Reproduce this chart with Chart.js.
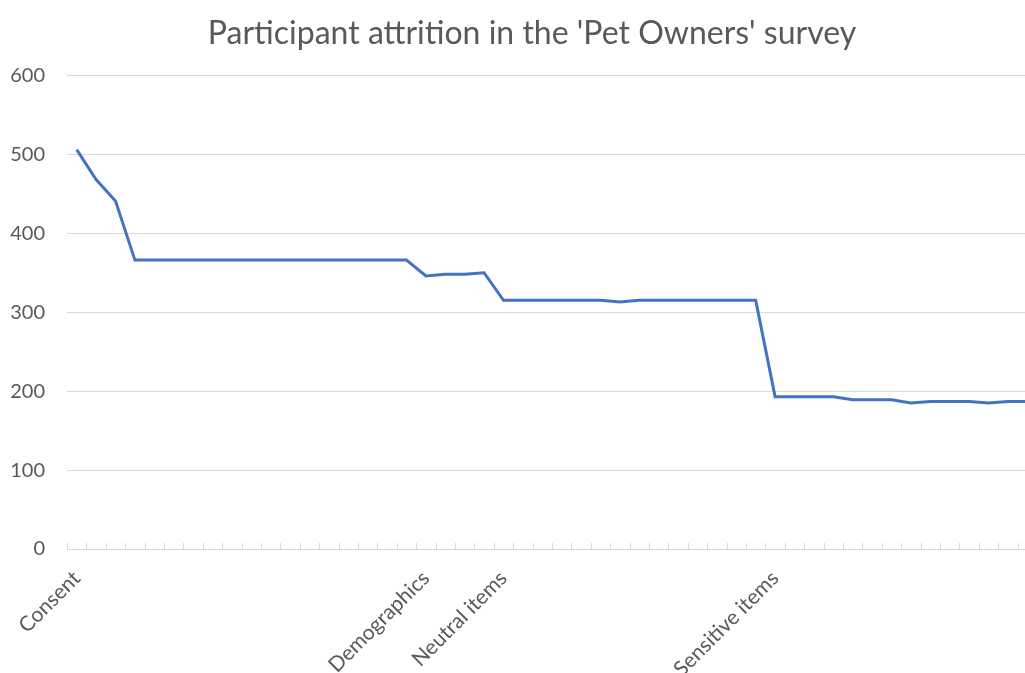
<!DOCTYPE html>
<html>
<head>
<meta charset="utf-8">
<script src="https://cdn.jsdelivr.net/npm/chart.js@4.4.1/dist/chart.umd.min.js"></script>
<style>
  html, body { margin: 0; padding: 0; background: #fff; overflow: hidden; }
</style>
</head>
<body>
<canvas id="attritionChart" width="1064" height="673"></canvas>
<script>
// one entry per survey page, section name where a section starts
const pages = [
  "Consent", "", "", "", "", "", "", "", "", "",
  "", "", "", "", "", "", "", "", "Demographics", "",
  "", "", "Neutral items", "", "", "", "", "", "", "",
  "", "", "", "", "", "", "Sensitive items", "", "", "",
  "", "", "", "", "", "", "", "", "", "",
];

const participants = [
  506, 468, 441, 366, 366, 366, 366, 366, 366, 366,
  366, 366, 366, 366, 366, 366, 366, 366, 346, 348,
  348, 350, 315, 315, 315, 315, 315, 315, 313, 315,
  315, 315, 315, 315, 315, 315, 193, 193, 193, 193,
  189, 189, 189, 185, 187, 187, 187, 185, 187, 187,
];

const yTicks = [0, 100, 200, 300, 400, 500, 600];

const grey = "#595959";
const gridGrey = "#d9d9d9";
const fontFamily = "Lato, 'Open Sans', sans-serif";

// excel style tick marks, sitting on top of the category axis
const categoryTicks = {
  id: "categoryTicks",
  afterDraw(chart) {
    const x = chart.scales.x;
    const bottom = chart.chartArea.bottom;
    const step = x.getPixelForValue(1) - x.getPixelForValue(0);
    const ctx = chart.ctx;
    ctx.save();
    ctx.strokeStyle = gridGrey;
    ctx.lineWidth = 1;
    ctx.beginPath();
    for (let i = 0; i <= pages.length; i++) {
      const px = Math.round(x.getPixelForValue(0) - step / 2 + i * step) + 0.5;
      ctx.moveTo(px, bottom);
      ctx.lineTo(px, bottom - 6);
    }
    ctx.stroke();
    ctx.restore();
  },
};

new Chart(document.getElementById("attritionChart"), {
  type: "line",
  data: {
    labels: pages,
    datasets: [
      {
        label: "Participants",
        data: participants,
        borderColor: "#4472C4",
        borderWidth: 3,
        pointRadius: 0,
        tension: 0,
        yAxisID: "y",
      },
    ],
  },
  options: {
    responsive: false,
    animation: false,
    layout: { padding: 0 },
    plugins: {
      legend: { display: false },
      tooltip: { enabled: false },
      title: {
        display: true,
        text: "Participant attrition in the 'Pet Owners' survey",
        color: grey,
        font: { family: fontFamily, size: 32, weight: "normal" },
        padding: { top: 14, bottom: 23 },
      },
    },
    scales: {
      x: {
        type: "category",
        offset: true,
        grid: { display: false },
        border: { display: false },
        ticks: {
          autoSkip: false,
          maxRotation: 45,
          minRotation: 45,
          color: grey,
          padding: 9,
          font: { family: fontFamily, size: 21 },
        },
        afterFit(scale) {
          scale.height = 124;
        },
      },
      y: {
        min: 0,
        max: 600,
        afterBuildTicks(scale) {
          scale.ticks = yTicks.map((v) => ({ value: v }));
        },
        grid: { color: gridGrey, lineWidth: 1, drawTicks: false },
        border: { display: false },
        ticks: {
          color: grey,
          padding: 22,
          font: { family: fontFamily, size: 20 },
        },
        afterFit(scale) {
          scale.width = 67;
        },
      },
      yRight: {
        position: "right",
        display: true,
        grid: { display: false },
        border: { display: false },
        ticks: { display: false },
        afterFit(scale) {
          scale.width = 27;
        },
      },
    },
  },
  plugins: [categoryTicks],
});
</script>
</body>
</html>
